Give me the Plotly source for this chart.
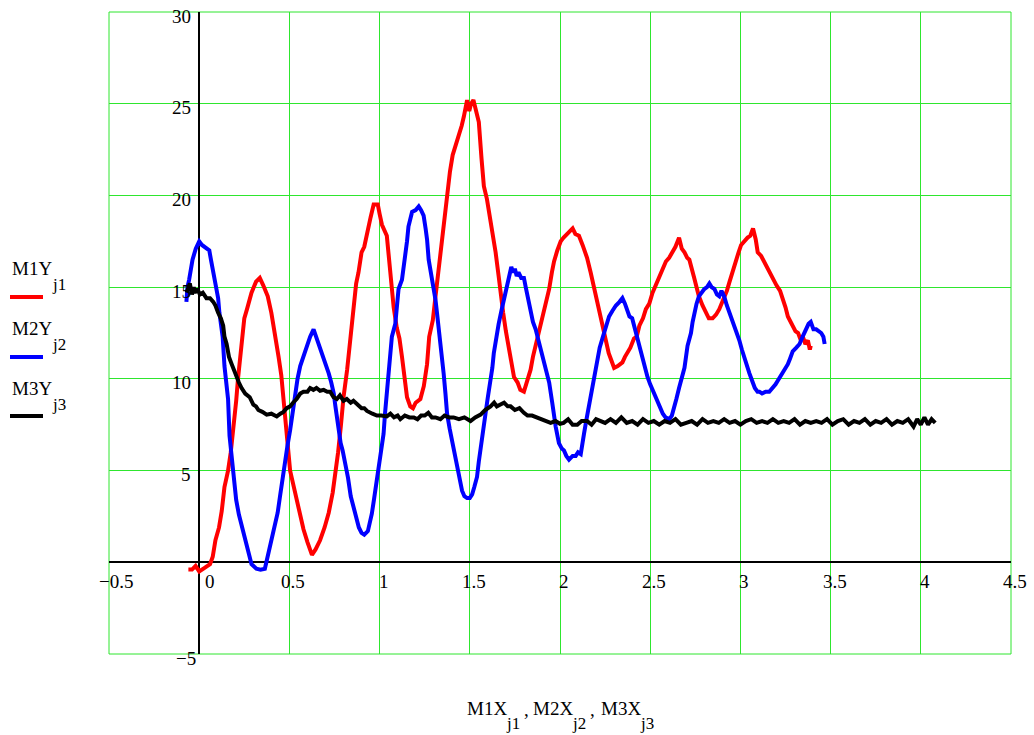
import plotly.graph_objects as go

# ---------------- data ----------------
m1_x = [-0.06,-0.04,-0.02,0.0,0.03,0.06,0.075,0.09,0.11,0.125,
        0.14,0.16,0.175,0.19,0.205,0.215,0.233,0.25,0.265,0.29,
        0.315,0.336,0.355,0.38,0.40,0.42,0.44,0.455,0.476,0.49,
        0.504,0.52,0.54,0.56,0.578,0.60,0.625,0.645,0.67,0.695,
        0.718,0.74,0.756,0.77,0.785,0.80,0.82,0.84,0.856,0.87,
        0.883,0.90,0.915,0.93,0.95,0.967,0.99,1.0,1.013,1.04,
        1.05,1.06,1.078,1.095,1.11,1.124,1.14,1.152,1.17,1.185,
        1.2,1.226,1.245,1.263,1.275,1.295,1.31,1.325,1.337,1.355,
        1.374,1.39,1.405,1.425,1.44,1.455,1.467,1.485,1.497,1.507,
        1.52,1.535,1.55,1.565,1.578,1.595,1.615,1.63,1.643,1.66,
        1.67,1.685,1.70,1.715,1.73,1.745,1.765,1.78,1.80,1.815,
        1.837,1.85,1.865,1.88,1.90,1.92,1.94,1.955,1.967,1.985,
        2.004,2.02,2.04,2.055,2.07,2.085,2.105,2.125,2.15,2.17,
        2.19,2.205,2.217,2.23,2.244,2.255,2.27,2.285,2.30,2.32,
        2.346,2.36,2.374,2.39,2.41,2.425,2.44,2.46,2.476,2.495,
        2.513,2.53,2.55,2.57,2.587,2.605,2.624,2.64,2.66,2.675,
        2.69,2.705,2.717,2.73,2.744,2.757,2.77,2.79,2.81,2.825,
        2.846,2.865,2.883,2.895,2.91,2.925,2.94,2.96,2.976,2.99,
        3.004,3.02,3.04,3.055,3.07,3.085,3.096,3.115,3.13,3.145,
        3.16,3.18,3.2,3.22,3.235,3.25,3.263,3.275,3.29,3.305,
        3.32,3.335,3.346,3.36,3.374,3.385,3.39]
m1_y = [-0.4,-0.4,-0.2,-0.5,-0.3,-0.1,0.3,1.2,1.9,2.8,
        4.1,5.0,6.0,7.2,8.8,10.0,11.6,13.3,13.8,14.7,
        15.3,15.5,15.1,14.5,13.6,12.5,11.2,10.2,7.8,6.5,
        5.0,4.3,3.4,2.6,1.8,1.1,0.4,0.7,1.2,1.9,
        2.7,3.8,4.9,6.0,7.4,9.0,10.5,12.5,14.3,15.2,
        15.8,16.9,17.2,18.0,18.8,19.5,19.5,19.0,18.4,17.8,
        16.8,15.8,13.9,12.8,12.2,11.2,9.9,9.0,8.5,8.4,
        8.7,8.9,9.6,10.8,12.3,13.2,14.5,15.8,16.9,18.5,
        20.0,21.3,22.2,22.8,23.4,23.8,24.3,25.2,24.6,25.0,
        25.2,24.5,24.0,22.0,20.5,19.8,18.7,17.8,16.9,15.6,
        14.7,13.6,12.6,11.7,11.0,10.1,9.8,9.4,9.3,9.8,
        10.5,11.2,11.8,12.4,13.3,14.1,14.9,15.8,16.4,17.0,
        17.5,17.7,17.9,18.1,18.2,17.9,17.8,17.3,16.6,15.8,
        14.9,14.1,13.6,13.1,12.5,12.0,11.4,11.0,10.6,10.7,
        10.9,11.2,11.4,11.7,12.2,12.3,12.9,13.3,13.8,14.1,
        14.7,15.1,15.6,16.0,16.4,16.6,16.9,17.2,17.7,17.1,
        16.9,16.6,16.5,15.9,15.5,15.0,14.5,14.0,13.6,13.3,
        13.3,13.5,13.8,14.1,14.4,14.8,15.3,16.0,16.5,16.9,
        17.3,17.5,17.7,17.8,18.2,17.6,16.9,16.7,16.4,16.1,
        15.8,15.5,15.1,14.8,14.4,13.9,13.4,13.2,12.9,12.6,
        12.5,12.1,12.3,11.9,12.1,11.6,11.8]

m2_x = [-0.071,-0.065,-0.056,-0.045,-0.037,-0.019,0.0,0.015,0.028,0.045,
        0.056,0.065,0.075,0.093,0.105,0.112,0.13,0.14,0.15,0.16,
        0.168,0.187,0.205,0.22,0.233,0.26,0.275,0.29,0.317,0.34,
        0.364,0.39,0.405,0.42,0.435,0.448,0.462,0.476,0.49,0.504,
        0.518,0.53,0.545,0.56,0.58,0.597,0.615,0.634,0.648,0.66,
        0.675,0.69,0.705,0.718,0.732,0.746,0.755,0.765,0.775,0.784,
        0.795,0.81,0.825,0.84,0.855,0.87,0.885,0.9,0.915,0.935,
        0.957,0.97,0.985,1.0,1.013,1.022,1.03,1.04,1.05,1.06,
        1.068,1.087,1.095,1.105,1.124,1.135,1.143,1.152,1.16,1.17,
        1.18,1.2,1.217,1.23,1.244,1.255,1.263,1.272,1.285,1.30,
        1.31,1.318,1.328,1.337,1.345,1.355,1.365,1.374,1.388,1.40,
        1.415,1.43,1.445,1.457,1.47,1.485,1.5,1.513,1.525,1.54,
        1.55,1.56,1.575,1.587,1.6,1.615,1.625,1.633,1.645,1.66,
        1.675,1.69,1.70,1.717,1.73,1.74,1.75,1.76,1.77,1.785,
        1.80,1.81,1.82,1.837,1.85,1.865,1.883,1.895,1.91,1.925,
        1.94,1.957,1.966,1.976,1.994,2.01,2.022,2.035,2.05,2.07,
        2.087,2.1,2.115,2.125,2.133,2.145,2.16,2.175,2.19,2.207,
        2.22,2.235,2.255,2.272,2.29,2.31,2.33,2.346,2.36,2.374,
        2.385,2.40,2.415,2.43,2.445,2.457,2.47,2.485,2.5,2.513,
        2.527,2.54,2.555,2.57,2.585,2.606,2.62,2.633,2.645,2.66,
        2.675,2.69,2.707,2.726,2.735,2.744,2.757,2.77,2.785,2.80,
        2.815,2.828,2.84,2.856,2.87,2.883,2.895,2.91,2.925,2.94,
        2.955,2.967,2.98,2.994,3.008,3.02,3.035,3.05,3.065,3.08,
        3.095,3.105,3.12,3.14,3.16,3.18,3.195,3.207,3.22,3.235,
        3.25,3.263,3.275,3.29,3.31,3.328,3.345,3.365,3.378,3.39,
        3.405,3.42,3.435,3.448,3.46,3.467]
m2_y = [14.2,15.0,15.4,16.2,16.5,17.1,17.5,17.3,17.2,17.1,
        17.0,16.5,16.0,15.1,14.4,13.6,12.3,10.7,9.8,8.9,
        6.9,5.0,3.4,2.6,2.1,1.0,0.4,-0.1,-0.35,-0.4,
        -0.35,0.8,1.3,1.9,2.7,3.6,4.6,5.6,6.4,7.2,
        8.2,9.2,10.0,10.7,11.3,11.8,12.3,12.7,12.3,12.0,
        11.6,11.2,10.8,10.3,9.8,9.2,8.5,7.8,7.1,6.5,
        6.1,5.4,4.6,3.6,3.0,2.4,1.9,1.6,1.5,1.7,
        2.65,3.5,4.5,5.3,6.1,7.0,8.1,9.2,10.3,11.4,
        12.3,13.0,14.0,14.9,15.4,16.1,16.7,17.5,18.3,18.8,
        19.1,19.2,19.4,19.2,18.9,18.2,17.6,16.5,15.8,15.0,
        14.3,13.6,12.8,11.9,11.1,10.3,9.2,8.1,7.3,6.7,
        6.0,5.4,4.6,3.9,3.6,3.5,3.5,3.7,4.1,4.65,
        5.5,6.3,7.2,8.1,9.0,9.9,10.6,11.4,12.2,13.0,
        13.7,14.3,14.9,15.4,16.1,15.8,16.0,15.6,15.8,15.5,
        15.5,15.0,14.5,13.6,13.1,12.7,12.0,11.5,11.1,10.4,
        9.8,8.7,8.0,7.4,6.5,6.2,6.1,5.8,5.6,5.8,
        5.8,6.0,5.9,6.4,7.0,7.7,8.5,9.3,10.0,11.1,
        11.7,12.2,12.8,13.4,13.7,14.0,14.2,14.4,14.1,13.6,
        13.4,13.3,12.7,12.2,11.7,11.2,10.6,10.1,9.7,9.4,
        9.0,8.7,8.4,8.1,7.9,7.8,8.0,8.4,8.9,9.5,
        10.0,10.6,11.8,12.5,13.1,13.6,14.1,14.5,14.7,14.9,
        15.0,15.2,15.0,14.9,14.6,14.5,14.8,14.5,14.0,13.6,
        13.2,12.9,12.5,12.1,11.6,11.2,10.7,10.3,9.9,9.5,
        9.3,9.3,9.2,9.3,9.3,9.5,9.7,9.9,10.1,10.3,
        10.5,10.8,11.1,11.5,11.7,11.9,12.3,12.7,13.0,13.1,
        12.7,12.7,12.6,12.5,12.3,11.9]

m3_x = [-0.07,-0.06,-0.052,-0.04,-0.03,-0.024,-0.01,0.004,0.02,0.04,
        0.06,0.078,0.09,0.105,0.12,0.133,0.14,0.152,0.165,0.18,
        0.195,0.207,0.22,0.235,0.255,0.28,0.3,0.315,0.328,0.35,
        0.374,0.4,0.43,0.45,0.467,0.485,0.504,0.52,0.54,0.56,
        0.578,0.6,0.615,0.633,0.65,0.67,0.69,0.71,0.726,0.745,
        0.763,0.78,0.8,0.818,0.84,0.855,0.874,0.9,0.915,0.93,
        0.96,0.985,1.01,1.04,1.06,1.08,1.1,1.115,1.14,1.165,
        1.19,1.21,1.23,1.25,1.27,1.29,1.31,1.337,1.36,1.385,
        1.41,1.44,1.47,1.504,1.53,1.56,1.585,1.6,1.615,1.635,
        1.65,1.67,1.69,1.71,1.726,1.75,1.775,1.80,1.82,1.845,
        1.874,1.9,1.925,1.948,1.975,2.0,2.02,2.045,2.07,2.096,
        2.12,2.15,2.175,2.2,2.226,2.25,2.28,2.31,2.34,2.37,
        2.4,2.43,2.46,2.49,2.52,2.55,2.58,2.61,2.64,2.67,
        2.7,2.73,2.76,2.79,2.82,2.85,2.88,2.91,2.94,2.97,
        3.0,3.03,3.06,3.09,3.12,3.15,3.18,3.21,3.24,3.27,
        3.3,3.33,3.36,3.39,3.42,3.45,3.48,3.51,3.54,3.57,
        3.6,3.63,3.66,3.69,3.72,3.75,3.78,3.81,3.84,3.87,
        3.9,3.93,3.96,3.98,4.0,4.02,4.04,4.06,4.08]
m3_y = [14.7,15.0,15.2,14.6,15.0,14.7,14.9,14.6,14.7,14.4,
        14.4,14.2,14.0,13.6,13.3,12.9,12.3,11.9,11.2,10.8,
        10.4,10.1,9.8,9.5,9.2,9.0,8.6,8.5,8.3,8.2,
        8.05,8.1,7.95,8.1,8.2,8.4,8.5,8.7,8.9,9.2,
        9.3,9.3,9.5,9.4,9.5,9.35,9.4,9.3,9.3,9.0,
        8.9,9.1,8.8,8.9,8.7,8.8,8.6,8.4,8.4,8.25,
        8.1,8.0,8.0,7.95,8.1,7.9,8.0,7.8,8.0,7.9,
        7.9,7.8,8.0,8.0,8.15,7.9,7.9,7.8,8.0,7.9,
        7.9,7.8,7.9,7.7,7.9,8.05,8.3,8.4,8.5,8.7,
        8.5,8.6,8.7,8.5,8.5,8.3,8.4,8.15,8.0,8.0,
        7.9,7.8,7.7,7.6,7.7,7.55,7.6,7.8,7.5,7.5,
        7.7,7.7,7.5,7.8,7.7,7.6,7.8,7.6,7.9,7.6,
        7.7,7.5,7.8,7.6,7.7,7.5,7.7,7.6,7.8,7.5,
        7.6,7.7,7.5,7.8,7.6,7.7,7.6,7.8,7.6,7.7,
        7.5,7.7,7.8,7.6,7.7,7.6,7.8,7.6,7.7,7.6,
        7.8,7.5,7.7,7.6,7.7,7.6,7.8,7.5,7.7,7.8,
        7.5,7.7,7.6,7.8,7.5,7.7,7.6,7.8,7.5,7.7,
        7.6,7.8,7.4,7.8,7.5,7.9,7.5,7.8,7.6]

x_tick_vals = [-0.5, 0, 0.5, 1, 1.5, 2, 2.5, 3, 3.5, 4, 4.5]
x_tick_text = ["\u22120.5", "0", "0.5", "1", "1.5", "2", "2.5", "3", "3.5", "4", "4.5"]
y_tick_vals = [30, 25, 20, 15, 10, 5, -5]
y_tick_text = ["30", "25", "20", "15", "10", "5", "\u22125"]

series_names = ["M1Y", "M2Y", "M3Y"]
series_subs = ["j1", "j2", "j3"]
series_colors = ["#ff0000", "#0000ff", "#000000"]
x_title_names = ["M1X", "M2X", "M3X"]
x_title_subs = ["j1", "j2", "j3"]

# ---------------- figure ----------------
FONT = "Liberation Serif, Times New Roman, serif"
GREEN = "#2ee62e"
FS = 19
FS_SUB = 17

fig = go.Figure()
for xs, ys, col, nm in zip([m1_x, m2_x, m3_x], [m1_y, m2_y, m3_y], series_colors, series_names):
    fig.add_trace(go.Scatter(x=xs, y=ys, mode="lines", name=nm,
                             line=dict(color=col, width=4),
                             showlegend=False, hoverinfo="skip"))

L, R, T, B = 109, 23, 12, 81
W, H = 1034, 735
PW, PH = W - L - R, H - T - B


def px(xp):
    return (xp - L) / PW


def py(yp):
    return (T + PH - yp) / PH


fig.update_layout(
    width=W, height=H,
    margin=dict(l=L, r=R, t=T, b=B, pad=0),
    plot_bgcolor="white", paper_bgcolor="white",
    showlegend=False,
    font=dict(family=FONT, size=FS, color="black"),
)
fig.update_xaxes(range=[-0.5, 4.5], tick0=0, dtick=0.5, showgrid=True,
                 gridcolor=GREEN, gridwidth=1, zeroline=True,
                 zerolinecolor="black", zerolinewidth=2,
                 showticklabels=False, ticks="", showline=False)
fig.update_yaxes(range=[-5, 30], tick0=0, dtick=5, showgrid=True,
                 gridcolor=GREEN, gridwidth=1, zeroline=True,
                 zerolinecolor="black", zerolinewidth=2,
                 showticklabels=False, ticks="", showline=False)

# green frame
fig.add_shape(type="rect", xref="paper", yref="paper", x0=0, x1=1, y0=0, y1=1,
              line=dict(color=GREEN, width=1), layer="below")

ann = []
for v, t in zip(x_tick_vals, x_tick_text):
    shift = 4
    if v == 0:
        shift = 11
    elif v < 0:
        shift = 7
    ann.append(dict(x=v, y=0, xref="x", yref="y", text=t, showarrow=False,
                    xanchor="center", yanchor="middle", xshift=shift, yshift=-19,
                    font=dict(family=FONT, size=FS)))
for v, t in zip(y_tick_vals, y_tick_text):
    ann.append(dict(x=0, y=v, xref="x", yref="y", text=t, showarrow=False,
                    xanchor="right", yanchor="middle",
                    xshift=-6 if v > 0 else -1, yshift=-4,
                    font=dict(family=FONT, size=FS)))


def txt(x_left, y_mid, text, size):
    ann.append(dict(x=px(x_left), y=py(y_mid), xref="paper", yref="paper",
                    text=text, showarrow=False, xanchor="left", yanchor="middle",
                    font=dict(family=FONT, size=size)))


# x-axis title  M1X_j1, M2X_j2, M3X_j3
title_left = [465, 531, 599]
for i, (nm, sb, xl) in enumerate(zip(x_title_names, x_title_subs, title_left)):
    txt(xl, 708.5, nm, FS)
    txt(xl + 39, 723, sb, FS_SUB)
    if i < 2:
        txt(xl + 57, 709, ",", FS)

# legend (Mathcad style: name above the line sample)
leg_text_y = [268.5, 328.5, 388.5]
leg_line_y = [297, 357, 416]
for nm, sb, col, ty, ly in zip(series_names, series_subs, series_colors, leg_text_y, leg_line_y):
    txt(10, ty, nm, FS)
    txt(50, ty + 16, sb, FS_SUB)
    fig.add_shape(type="line", xref="paper", yref="paper",
                  x0=px(10), x1=px(43), y0=py(ly), y1=py(ly),
                  line=dict(color=col, width=4))

fig.update_layout(annotations=ann)
fig.write_html("out.html", config={"displayModeBar": False},
               post_script="document.body.style.margin='0px';")
